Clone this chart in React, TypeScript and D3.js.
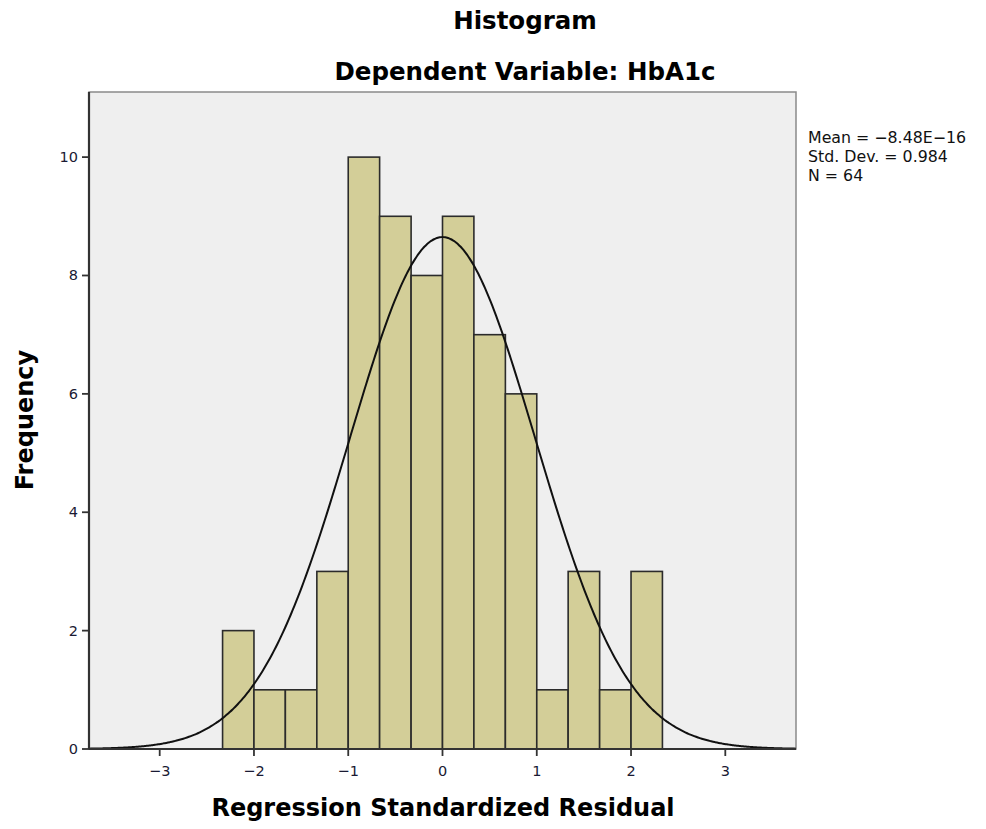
import React from "react";
import * as d3 from "d3";

const binEdges = [-2.333, -2.0, -1.667, -1.333, -1.0, -0.667, -0.333, 0.0, 0.333, 0.667, 1.0, 1.333, 1.667, 2.0, 2.333];
const binCounts = [2, 1, 1, 3, 10, 9, 8, 9, 7, 6, 1, 3, 1, 3];
const xTicks = [-3, -2, -1, 0, 1, 2, 3];
const yTicks = [0, 2, 4, 6, 8, 10];
const statsLines = ["Mean = \u22128.48E\u221216", "Std. Dev. = 0.984", "N = 64"];
const meanVal = -8.48e-16;
const sdVal = 0.984;
const nVal = 64;

const W = 986, H = 829;
const left = 89, right = 796, top = 92, bottom = 749;

export default function App() {
  const x = d3.scaleLinear().domain([-3.75, 3.75]).range([left, right]);
  const y = d3.scaleLinear().domain([0, 11.1]).range([bottom, top]);
  const bw = 1 / 3;
  const curvePts = d3.range(-3.75, 3.7501, 0.02).map((v) => [
    v,
    (nVal * bw) / (sdVal * Math.sqrt(2 * Math.PI)) * Math.exp(-0.5 * ((v - meanVal) / sdVal) ** 2),
  ] as [number, number]);
  const line = d3.line<[number, number]>().x((d) => x(d[0])).y((d) => y(d[1])).curve(d3.curveBasis);
  const font = "'DejaVu Sans', 'Open Sans', sans-serif";
  return (
    <svg width={W} height={H} style={{ display: "block", position: "absolute", left: 0, top: 0 }}>
      <rect x={0} y={0} width={W} height={H} fill="#ffffff" />
      <text x={525} y={29} textAnchor="middle" fontFamily={font} fontWeight="bold" fontSize={24.5} fill="#000">Histogram</text>
      <text x={525} y={80} textAnchor="middle" fontFamily={font} fontWeight="bold" fontSize={24.5} fill="#000">Dependent Variable: HbA1c</text>
      <rect x={left} y={top} width={right - left} height={bottom - top} fill="#efefef" stroke="#8a8a8a" strokeWidth={1.5} />
      {binCounts.map((c, i) => (
        <rect key={i} x={x(binEdges[i])} y={y(c)} width={x(binEdges[i + 1]) - x(binEdges[i])} height={y(0) - y(c)}
          fill="#d3ce98" stroke="#2b2b2b" strokeWidth={1.6} />
      ))}
      <path d={line(curvePts) || ""} fill="none" stroke="#111" strokeWidth={2} />
      <line x1={left} x2={left} y1={top} y2={bottom} stroke="#333" strokeWidth={2.2} />
      <line x1={left} x2={right} y1={bottom} y2={bottom} stroke="#333" strokeWidth={2.2} />
      {yTicks.map((t) => (
        <g key={t}>
          <line x1={left - 7} x2={left} y1={y(t)} y2={y(t)} stroke="#333" strokeWidth={1.8} />
          <text x={left - 11} y={y(t) + 5} textAnchor="end" fontFamily={font} fontSize={14.5} fill="#1a1a33">{t}</text>
        </g>
      ))}
      {xTicks.map((t) => (
        <g key={t}>
          <line x1={x(t)} x2={x(t)} y1={bottom} y2={bottom + 7} stroke="#333" strokeWidth={1.8} />
          <text x={x(t)} y={bottom + 27} textAnchor="middle" fontFamily={font} fontSize={14.5} fill="#1a1a33">{t < 0 ? "\u2212" + Math.abs(t) : t}</text>
        </g>
      ))}
      <text x={443} y={816} textAnchor="middle" fontFamily={font} fontWeight="bold" fontSize={24} fill="#000">Regression Standardized Residual</text>
      <text transform={`translate(33,${420}) rotate(-90)`} textAnchor="middle" fontFamily={font} fontWeight="bold" fontSize={24} fill="#000">Frequency</text>
      {statsLines.map((s, i) => (
        <text key={i} x={808} y={143 + i * 19} fontFamily={font} fontSize={15.8} fill="#111">{s}</text>
      ))}
    </svg>
  );
}
